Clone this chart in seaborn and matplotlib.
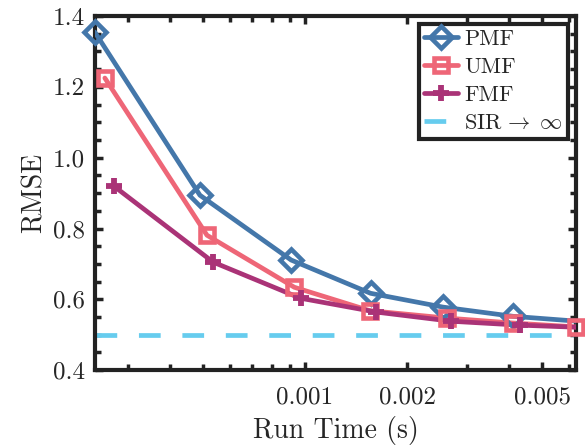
import numpy as np
import pandas as pd
import matplotlib
matplotlib.use("Agg")
import matplotlib.pyplot as plt
from matplotlib.lines import Line2D
import seaborn as sns
from matplotlib.ticker import FixedLocator, NullFormatter

# ---- data ----
pmf_time = [0.00024, 0.00049, 0.00091, 0.00156, 0.00255, 0.0041, 0.0068]
pmf_rmse = [1.355, 0.894, 0.711, 0.617, 0.578, 0.552, 0.536]
umf_time = [0.000257, 0.000514, 0.00093, 0.00155, 0.00262, 0.0041, 0.0063]
umf_rmse = [1.225, 0.781, 0.634, 0.568, 0.547, 0.533, 0.522]
fmf_time = [0.000273, 0.000536, 0.00097, 0.00162, 0.0027, 0.0043, 0.0068]
fmf_rmse = [0.920, 0.705, 0.603, 0.564, 0.538, 0.527, 0.520]
sir_rmse = 0.5
series_names = ["PMF", "UMF", "FMF"]
sir_label = r"SIR$\,\rightarrow\;\infty$"
x_ticks = [0.001, 0.002, 0.005]
x_ticklabels = ["0.001", "0.002", "0.005"]
y_ticks = [0.4, 0.6, 0.8, 1.0, 1.2, 1.4]
y_ticklabels = ["0.4", "0.6", "0.8", "1.0", "1.2", "1.4"]
x_range = (0.00024, 0.0063)

colors = {"PMF": "#4477AA", "UMF": "#EE6677", "FMF": "#AA3377"}
markers = {"PMF": "D", "UMF": "s", "FMF": "+"}
msizes = {"PMF": 11, "UMF": 9.5, "FMF": 12}
mews = {"PMF": 3.3, "UMF": 3.3, "FMF": 4.2}
sir_color = "#66CCEE"
LW = 3.4

sns.set_style("ticks")
plt.rcParams["font.family"] = ["cmr10"]
plt.rcParams["mathtext.fontset"] = "cm"
plt.rcParams["axes.formatter.use_mathtext"] = True

fig = plt.figure(figsize=(5.85, 4.47), dpi=100)
ax = fig.add_axes([0.162, 0.172, 0.823, 0.792])

data = {
    "PMF": (pmf_time, pmf_rmse),
    "UMF": (umf_time, umf_rmse),
    "FMF": (fmf_time, fmf_rmse),
}

ax.axhline(sir_rmse, color=sir_color, linestyle=(0, (4.6, 4.6)), linewidth=LW,
           zorder=2)

# lines (clipped at the axes)
for name in series_names:
    t, r = data[name]
    df = pd.DataFrame({"time": t, "rmse": r})
    sns.lineplot(data=df, x="time", y="rmse", ax=ax, color=colors[name],
                 linewidth=LW, zorder=3, legend=False)

# markers of points inside the axis range (not clipped)
for name in series_names:
    t, r = data[name]
    df = pd.DataFrame({"time": t, "rmse": r})
    df = df[(df.time >= x_range[0] * 0.999) & (df.time <= x_range[1] * 1.001)]
    sns.lineplot(data=df, x="time", y="rmse", ax=ax, color=colors[name],
                 linewidth=0, marker=markers[name], markersize=msizes[name],
                 markeredgewidth=mews[name], markerfacecolor="none",
                 markeredgecolor=colors[name], clip_on=False, zorder=4,
                 legend=False)

ax.set_xscale("log")
ax.set_xlim(*x_range)
ax.set_ylim(0.4, 1.4)

ax.xaxis.set_major_locator(FixedLocator(x_ticks))
ax.set_xticklabels(x_ticklabels)
ax.xaxis.set_minor_locator(matplotlib.ticker.LogLocator(base=10, subs=np.arange(2, 10) * 0.1, numticks=20))
ax.xaxis.set_minor_formatter(NullFormatter())
ax.set_yticks(y_ticks)
ax.set_yticklabels(y_ticklabels)
ax.yaxis.set_minor_locator(matplotlib.ticker.MultipleLocator(0.05))

ax.tick_params(which="both", direction="in", top=True, right=True,
               color="#222222", width=2.5)
ax.tick_params(which="major", length=6, labelsize=18)
ax.tick_params(axis="x", which="major", pad=12)
ax.tick_params(axis="y", which="major", pad=7)
ax.tick_params(which="minor", length=4)
for s in ax.spines.values():
    s.set_linewidth(3)
    s.set_color("#222222")

ax.set_xlabel("Run Time (s)", fontsize=20, labelpad=5)
ax.set_ylabel("RMSE", fontsize=20, labelpad=4)

handles = [Line2D([], [], color=colors[n], linewidth=LW, marker=markers[n],
                  markersize=msizes[n], markeredgewidth=mews[n],
                  markerfacecolor="none", markeredgecolor=colors[n])
           for n in series_names]
handles.append(Line2D([], [], color=sir_color, linewidth=LW,
                      linestyle=(0, (4.6, 5))))
labels = series_names + [sir_label]
leg = ax.legend(handles, labels, loc="upper right", fontsize=16,
                handlelength=1.5, handletextpad=0.3, borderpad=0.25,
                labelspacing=0.38, fancybox=False, framealpha=1,
                borderaxespad=0.35)
leg.get_frame().set_edgecolor("#222222")
leg.get_frame().set_linewidth(3)

fig.savefig("out.png", dpi=100)
